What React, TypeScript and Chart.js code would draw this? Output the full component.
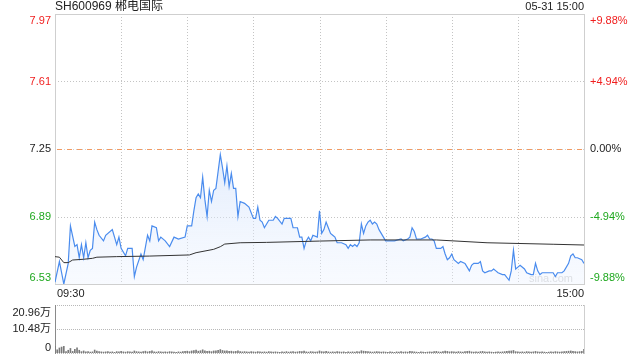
import React, { useEffect, useRef } from "react";
import { Chart, registerables } from "chart.js";

Chart.register(...registerables);

const TITLE = "SH600969 郴电国际";
const DATE_LABEL = "05-31 15:00";
const WATERMARK = "sina.com";
const PREV_CLOSE = 7.25;
const PRICE_MIN = 6.53;
const PRICE_MAX = 7.97;
const priceTicks = [7.97, 7.61, 7.25, 6.89, 6.53];
const priceTickLabels = ["7.97", "7.61", "7.25", "6.89", "6.53"];
const pctTickLabels = ["+9.88%", "+4.94%", "0.00%", "-4.94%", "-9.88%"];
const timeLabels = ["09:30", "15:00"];
const timeGridMinutes = [30, 60, 90, 120, 150, 180, 210];
const VOLUME_MAX = 20.96;
const volumeTicks = [20.96, 10.48, 0];
const volumeTickLabels = ["20.96万", "10.48万", "0"];

const priceMinutes = [
  0, 2, 4, 6, 7, 9, 10, 11, 12, 13, 14, 15, 16, 17, 18, 19, 20, 22, 23, 26,
  28, 29, 30, 32, 33, 35, 36, 37, 39, 40, 42, 43, 44, 46, 47, 48, 50, 52, 54, 56,
  59, 60, 62, 63, 64, 65, 66, 67, 68, 69, 70, 71, 72, 73, 74, 75, 76, 77, 78, 79,
  80, 81, 82, 83, 84, 86, 88, 90, 91, 92, 93, 94, 95, 96, 97, 98, 99, 100, 101, 103,
  104, 107, 108, 110, 111, 112, 113, 114, 115, 116, 117, 119, 120, 121, 122, 123, 124, 125, 126, 127,
  128, 130, 132, 133, 134, 135, 136, 137, 138, 139, 140, 141, 142, 143, 144, 145, 146, 147, 148, 149,
  150, 151, 153, 154, 157, 158, 160, 161, 162, 163, 164, 165, 166, 168, 169, 170, 171, 172, 173, 175,
  176, 177, 178, 179, 180, 181, 183, 184, 186, 187, 188, 189, 190, 192, 193, 194, 195, 197, 198, 199,
  200, 201, 203, 204, 206, 207, 208, 209, 210, 211, 213, 214, 216, 217, 218, 219, 220, 221, 223, 225,
  226, 227, 228, 230, 231, 233, 234, 235, 236, 237, 239, 240,
];
const prices = [
  6.54, 6.65, 6.53, 6.64, 6.84, 6.73, 6.74, 6.67, 6.74, 6.67, 6.75, 6.67, 6.71, 6.72, 6.86, 6.82, 6.79, 6.76, 6.79, 6.82,
  6.74, 6.78, 6.72, 6.68, 6.72, 6.72, 6.57, 6.62, 6.69, 6.66, 6.79, 6.76, 6.84, 6.83, 6.76, 6.78, 6.76, 6.73, 6.78, 6.77,
  6.78, 6.84, 6.84, 6.92, 6.99, 7.01, 6.99, 7.10, 6.98, 6.89, 7.03, 6.97, 7.03, 7.04, 7.13, 7.22, 7.15, 7.07, 7.16, 7.05,
  7.12, 7.04, 7.04, 6.89, 6.97, 6.96, 6.94, 6.88, 6.88, 6.94, 6.87, 6.86, 6.83, 6.85, 6.87, 6.87, 6.87, 6.89, 6.88, 6.85,
  6.88, 6.88, 6.83, 6.83, 6.78, 6.78, 6.72, 6.76, 6.78, 6.76, 6.79, 6.78, 6.92, 6.80, 6.82, 6.86, 6.83, 6.80, 6.79, 6.78,
  6.75, 6.75, 6.74, 6.72, 6.74, 6.73, 6.74, 6.73, 6.75, 6.85, 6.80, 6.84, 6.86, 6.87, 6.85, 6.86, 6.85, 6.82, 6.80, 6.78,
  6.76, 6.76, 6.76, 6.76, 6.77, 6.76, 6.77, 6.78, 6.83, 6.81, 6.77, 6.77, 6.77, 6.78, 6.79, 6.77, 6.77, 6.76, 6.72, 6.72,
  6.73, 6.69, 6.66, 6.67, 6.69, 6.66, 6.64, 6.65, 6.64, 6.62, 6.60, 6.63, 6.64, 6.64, 6.65, 6.60, 6.59, 6.60, 6.60, 6.61,
  6.60, 6.59, 6.58, 6.58, 6.55, 6.60, 6.71, 6.61, 6.62, 6.63, 6.61, 6.59, 6.58, 6.58, 6.64, 6.60, 6.58, 6.59, 6.59, 6.59,
  6.59, 6.57, 6.59, 6.59, 6.60, 6.64, 6.68, 6.69, 6.67, 6.67, 6.66, 6.64,
];

const avgMinutes = [0, 2, 4, 6, 8, 13, 17, 19, 28, 43, 61, 64, 72, 75, 77, 84, 96, 120, 143, 173, 196, 226, 240];
const avgPrices = [
  6.676, 6.673, 6.644, 6.644, 6.658, 6.662, 6.667, 6.673, 6.676, 6.679, 6.685, 6.697,
  6.715, 6.729, 6.743, 6.75, 6.752, 6.759, 6.765, 6.765, 6.75, 6.742, 6.738,
];

const volumes = [
  2.9, 1.4, 2.2, 2.6, 2.9, 0.6, 1.2, 2.0, 0.7, 1.6,
  2.3, 1.2, 0.6, 0.9, 0.5, 0.6, 0.4, 0.5, 1.3, 0.8,
  0.6, 0.5, 0.4, 0.5, 0.6, 0.4, 0.5, 0.3, 0.6, 0.5,
  0.7, 0.5, 0.4, 0.6, 0.5, 0.4, 0.9, 0.6, 0.5, 0.4,
  0.6, 0.8, 0.5, 0.7, 0.9, 0.5, 0.4, 0.6, 0.5, 0.4,
  0.5, 0.4, 0.6, 0.5, 0.4, 0.3, 0.5, 0.4, 0.6, 0.7,
  0.8, 0.6, 0.9, 1.1, 1.3, 0.8, 1.0, 1.4, 0.9, 0.7,
  0.8, 0.6, 0.9, 1.0, 1.2, 1.5, 1.1, 0.9, 1.0, 0.7,
  0.8, 0.6, 0.7, 0.9, 0.6, 0.5, 0.6, 0.5, 0.4, 0.6,
  0.5, 0.4, 0.6, 0.5, 0.4, 0.5, 0.4, 0.6, 0.5, 0.4,
  0.5, 0.4, 0.3, 0.5, 0.4, 0.6, 0.4, 0.5, 0.6, 0.4,
  0.5, 0.7, 0.6, 0.8, 0.5, 0.4, 0.6, 0.5, 0.4, 0.5,
  0.9, 0.6, 0.5, 0.7, 0.5, 0.4, 0.5, 0.4, 0.6, 0.5,
  0.4, 0.5, 0.3, 0.5, 0.4, 0.5, 0.4, 0.6, 0.5, 1.0,
  0.8, 0.7, 0.6, 0.5, 0.4, 0.5, 0.6, 0.5, 0.4, 0.5,
  0.4, 0.3, 0.5, 0.4, 0.3, 0.5, 0.4, 0.6, 0.4, 0.5,
  0.4, 0.7, 0.6, 0.5, 0.4, 0.3, 0.5, 0.4, 0.3, 0.4,
  0.5, 0.4, 0.6, 0.7, 0.5, 0.4, 0.6, 0.8, 0.7, 0.5,
  0.6, 0.5, 0.4, 0.6, 0.5, 0.4, 0.6, 0.7, 0.8, 0.5,
  0.4, 0.5, 0.4, 0.6, 0.7, 0.5, 0.4, 0.5, 0.4, 0.3,
  0.4, 0.5, 0.4, 0.5, 0.6, 0.7, 0.8, 0.9, 1.1, 0.6,
  0.5, 0.4, 0.5, 0.4, 0.6, 0.5, 0.4, 0.5, 0.7, 0.5,
  0.4, 0.5, 0.4, 0.3, 0.4, 0.5, 0.4, 0.6, 0.5, 0.4,
  0.5, 0.6, 0.7, 0.8, 0.9, 0.7, 0.6, 0.5, 0.6, 0.7,
  1.6,
];

const RED = "#f01e1e";
const GREEN = "#1fa81f";
const DARK = "#222222";
const FONT = "Arial, 'Liberation Sans', 'Noto Sans CJK SC', sans-serif";

function tickColor(v: number) {
  if (v > PREV_CLOSE + 1e-9) return RED;
  if (v < PREV_CLOSE - 1e-9) return GREEN;
  return DARK;
}

function hLine(ctx: CanvasRenderingContext2D, x1: number, x2: number, y: number) {
  ctx.beginPath();
  ctx.moveTo(x1, y);
  ctx.lineTo(x2, y);
  ctx.stroke();
}
function vLine(ctx: CanvasRenderingContext2D, x: number, y1: number, y2: number) {
  ctx.beginPath();
  ctx.moveTo(x, y1);
  ctx.lineTo(x, y2);
  ctx.stroke();
}

const pricePanelPlugin = {
  id: "pricePanel",
  beforeDatasetsDraw(chart: any) {
    const { ctx, chartArea: a, scales } = chart;
    const x = scales.x;
    const y = scales.y;
    ctx.save();
    ctx.lineWidth = 1;
    ctx.font = `11px ${FONT}`;
    ctx.fillStyle = "#d4d4d4";
    ctx.textAlign = "right";
    ctx.textBaseline = "middle";
    ctx.fillText(WATERMARK, 573, 279);
    ctx.strokeStyle = "#c4c4c4";
    ctx.setLineDash([1, 2]);
    for (const m of timeGridMinutes) {
      const px = Math.round(x.getPixelForValue(m)) + 0.5;
      vLine(ctx, px, a.top, a.bottom);
    }
    for (const v of priceTicks) {
      if (v === PRICE_MAX || v === PRICE_MIN || v === PREV_CLOSE) continue;
      const py = Math.round(y.getPixelForValue(v)) + 0.5;
      hLine(ctx, a.left, a.right, py);
    }
    const pc = Math.round(y.getPixelForValue(PREV_CLOSE)) + 0.5;
    ctx.strokeStyle = "#d0d0d0";
    ctx.setLineDash([1, 2]);
    hLine(ctx, a.left, a.right, pc);
    ctx.strokeStyle = "#f29a62";
    ctx.setLineDash([5, 5]);
    hLine(ctx, a.left + 2, a.right, pc);
    ctx.setLineDash([]);
    ctx.strokeStyle = "#cfcfcf";
    ctx.strokeRect(Math.round(a.left) + 0.5, Math.round(a.top) + 0.5, Math.round(a.right - a.left), Math.round(a.bottom - a.top));
    ctx.restore();
  },
  afterDraw(chart: any) {
    const { ctx, chartArea: a, scales } = chart;
    const y = scales.y;
    ctx.save();
    ctx.textBaseline = "middle";
    ctx.font = `12px ${FONT}`;
    ctx.fillStyle = DARK;
    ctx.textAlign = "left";
    ctx.fillText(TITLE, a.left, 7);
    ctx.font = `11px ${FONT}`;
    ctx.textAlign = "right";
    ctx.fillText(DATE_LABEL, a.right, 7);
    priceTicks.forEach((v, i) => {
      let py = y.getPixelForValue(v);
      if (i === 0) py += 6.5;
      if (i === priceTicks.length - 1) py -= 6.5;
      ctx.fillStyle = tickColor(v);
      ctx.textAlign = "right";
      ctx.fillText(priceTickLabels[i], a.left - 4, py);
      ctx.textAlign = "left";
      ctx.fillText(pctTickLabels[i], a.right + 6, py);
    });
    ctx.fillStyle = DARK;
    ctx.textAlign = "left";
    ctx.fillText(timeLabels[0], a.left + 2, a.bottom + 10);
    ctx.textAlign = "right";
    ctx.fillText(timeLabels[1], a.right, a.bottom + 10);
    ctx.restore();
  },
};

const volumePanelPlugin = {
  id: "volumePanel",
  beforeDatasetsDraw(chart: any) {
    const { ctx, chartArea: a, scales } = chart;
    const y = scales.y;
    ctx.save();
    ctx.lineWidth = 1;
    ctx.strokeStyle = "#b8b8b8";
    ctx.setLineDash([1, 1]);
    for (const v of volumeTicks) {
      const py = Math.round(y.getPixelForValue(v)) + 0.5;
      hLine(ctx, a.left + 2, a.right, py);
    }
    ctx.setLineDash([]);
    ctx.strokeStyle = "#8a8a8a";
    vLine(ctx, Math.round(a.left) + 0.5, a.top, a.bottom + 1);
    ctx.strokeStyle = "#cfcfcf";
    vLine(ctx, Math.round(a.right) + 0.5, a.top, a.bottom + 1);
    ctx.restore();
  },
  afterDraw(chart: any) {
    const { ctx, chartArea: a, scales } = chart;
    const y = scales.y;
    ctx.save();
    ctx.font = `11px ${FONT}`;
    ctx.fillStyle = DARK;
    ctx.textAlign = "right";
    ctx.textBaseline = "middle";
    volumeTicks.forEach((v, i) => {
      let py = y.getPixelForValue(v);
      if (i === 0) py += 8;
      if (i === volumeTicks.length - 1) py -= 5;
      ctx.fillText(volumeTickLabels[i], a.left - 4, py);
    });
    ctx.restore();
  },
};

export default function App() {
  const priceRef = useRef<HTMLCanvasElement | null>(null);
  const volRef = useRef<HTMLCanvasElement | null>(null);

  useEffect(() => {
    document.body.style.margin = "0";
    const pc = priceRef.current;
    const vc = volRef.current;
    if (!pc || !vc) return;

    const priceData = priceMinutes.map((m, i) => ({ x: m, y: prices[i] }));
    const avgData = avgMinutes.map((m, i) => ({ x: m, y: avgPrices[i] }));
    const volData = volumes.map((v, i) => ({ x: i, y: v }));

    const priceChart = new Chart(pc, {
      type: "line",
      data: {
        datasets: [
          {
            data: priceData,
            borderColor: "#4a8cee",
            borderWidth: 1.2,
            pointRadius: 0,
            tension: 0,
            fill: "start",
            backgroundColor: (c: any) => {
              const area = c.chart.chartArea;
              if (!area) return "rgba(220,232,252,0.5)";
              const g = c.chart.ctx.createLinearGradient(0, area.top + 130, 0, area.bottom);
              g.addColorStop(0, "rgba(205,222,250,0.6)");
              g.addColorStop(1, "rgba(235,242,255,0.35)");
              return g;
            },
            order: 2,
          },
          {
            data: avgData,
            borderColor: "#333333",
            borderWidth: 1,
            pointRadius: 0,
            tension: 0,
            fill: false,
            order: 1,
          },
        ],
      },
      options: {
        animation: false,
        responsive: false,
        maintainAspectRatio: false,
        layout: { padding: { left: 55, right: 56, top: 14, bottom: 16 } },
        plugins: { legend: { display: false }, tooltip: { enabled: false } },
        events: [],
        scales: {
          x: { type: "linear", min: 0, max: 240, display: false },
          y: { type: "linear", min: PRICE_MIN, max: PRICE_MAX, display: false },
        },
      },
      plugins: [pricePanelPlugin],
    } as any);

    const volChart = new Chart(vc, {
      type: "bar",
      data: {
        datasets: [
          {
            data: volData,
            backgroundColor: "#7a7a7a",
            barThickness: 1,
            borderWidth: 0,
          },
        ],
      },
      options: {
        animation: false,
        responsive: false,
        maintainAspectRatio: false,
        layout: { padding: { left: 55, right: 56, top: 5, bottom: 7 } },
        plugins: { legend: { display: false }, tooltip: { enabled: false } },
        events: [],
        scales: {
          x: { type: "linear", min: 0, max: 240, display: false, offset: false },
          y: { type: "linear", min: 0, max: VOLUME_MAX, display: false },
        },
      },
      plugins: [volumePanelPlugin],
    } as any);

    return () => {
      priceChart.destroy();
      volChart.destroy();
    };
  }, []);

  return (
    <div style={{ position: "relative", width: 640, height: 360, background: "#fff" }}>
      <canvas ref={priceRef} width={640} height={300} style={{ position: "absolute", left: 0, top: 0, width: 640, height: 300 }} />
      <canvas ref={volRef} width={640} height={60} style={{ position: "absolute", left: 0, top: 300, width: 640, height: 60 }} />
    </div>
  );
}
